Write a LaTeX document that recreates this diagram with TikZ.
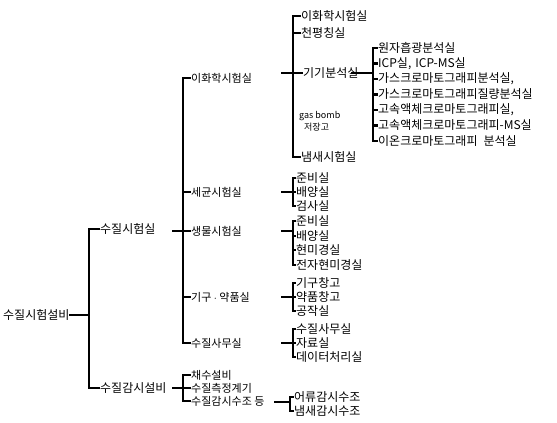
\documentclass[tikz,border=0pt]{standalone}
\usepackage{fontspec}
\setmainfont{Noto Sans CJK KR}
\begin{document}
\begin{tikzpicture}[x=1pt, y=-1pt,
    br/.style={line width=2.8pt, line cap=rect},
    lbl/.style={anchor=west, inner sep=1pt, font=\fontsize{12}{13}\selectfont},
    mid/.style={lbl, font=\fontsize{11}{12}\selectfont}]
	\useasboundingbox (0,0) rectangle (557,423);

	% Bracket columns
	\coordinate (x0) at (89,0);
	\coordinate (x1) at (183,0);
	\coordinate (x2) at (293,0);
	\coordinate (x3) at (373,0);
	\coordinate (x4) at (290,0);

	% Level 0
	\node[lbl] (root) at (2,315) {수질시험설비};
	\node[lbl] (lab) at (99,229) {수질시험실};
	\node[lbl] (mon) at (99,388) {수질감시설비};

	\draw[br] (root.east) -- (root.east -| x0);
	\draw[br] (lab.west) -- (lab.west -| x0) -- (mon.west -| x0) -- (mon.west);

	% Level 1
	\node[mid] (room1) at (190,78) {이화학시험실};
	\node[mid] (room2) at (190,192) {세균시험실};
	\node[mid] (room3) at (190,231) {생물시험실};
	\node[mid] (room4) at (190,297) {기구 $\cdot$ 약품실};
	\node[mid] (room5) at (190,343) {수질사무실};

	\node[mid] (mon1) at (190,375) {채수설비};
	\node[mid] (mon2) at (190,388) {수질측정계기};
	\node[mid] (mon3) at (190,401) {수질감시수조 등};

	\coordinate (t1) at (173,231);
	\draw[br] (t1) -- (t1 -| x1);
	\draw[br] (room1.west) -- (room1.west -| x1) -- (room5.west -| x1) -- (room5.west);
	\draw[br] (room2.west -| x1) -- (room2.west);
	\draw[br] (room3.west -| x1) -- (room3.west);
	\draw[br] (room4.west -| x1) -- (room4.west);

	\coordinate (t2) at (173,388);
	\draw[br] (t2) -- (t2 -| x1);
	\draw[br] (mon1.west) -- (mon1.west -| x1) -- (mon3.west -| x1) -- (mon3.west);
	\draw[br] (mon2.west -| x1) -- (mon2.west);

	% Level 2: chemistry
	\node[lbl] (chem1) at (300,16) {이화학시험실};
	\node[lbl] (chem2) at (300,33) {천평칭실};
	\node[lbl] (chem3) at (302,73) {기기분석실};
	\node[lbl, align=left, font=\fontsize{9}{12}\selectfont] (chem4) at (298,121) {gas bomb\\\hspace{5pt}저장고};
	\node[lbl] (chem5) at (300,157) {냄새시험실};

	\coordinate (t3) at (282,73);
	\draw[br] (t3) -- (t3 -| x2);
	\draw[br] (chem1.west) -- (chem1.west -| x2) -- (chem5.west -| x2) -- (chem5.west);
	\draw[br] (chem2.west -| x2) -- (chem2.west);
	\draw[br] (chem3.west -| x2) -- (chem3.west);

	% Level 3: instruments
	\node[lbl] (inst1) at (377,48) {원자흡광분석실};
	\node[lbl] (inst2) at (377,63.5) {ICP실,\hspace{4pt}ICP-MS실};
	\node[lbl] (inst3) at (377,79) {가스크로마토그래피분석실,};
	\node[lbl] (inst4) at (377,94.5) {가스크로마토그래피질량분석실};
	\node[lbl] (inst5) at (377,110) {고속액체크로마토그래피실,};
	\node[lbl] (inst6) at (377,125.5) {고속액체크로마토그래피-MS실};
	\node[lbl] (inst7) at (377,141) {이온크로마토그래피\hspace{6pt}분석실};

	\coordinate (t4) at (352,73);
	\draw[br] (t4) -- (t4 -| x3);
	\draw[br] (inst1.west) -- (inst1.west -| x3) -- (inst7.west -| x3) -- (inst7.west);
	\draw[br] (inst2.west -| x3) -- (inst2.west);
	\draw[br] (inst3.west -| x3) -- (inst3.west);
	\draw[br] (inst4.west -| x3) -- (inst4.west);
	\draw[br] (inst5.west -| x3) -- (inst5.west);
	\draw[br] (inst6.west -| x3) -- (inst6.west);

	% Level 2: bacteria
	\node[lbl] (germ1) at (295,178) {준비실};
	\node[lbl] (germ2) at (295,192) {배양실};
	\node[lbl] (germ3) at (295,206) {검사실};

	\coordinate (t5) at (282,192);
	\draw[br] (t5) -- (t5 -| x2);
	\draw[br] (germ1.west) -- (germ1.west -| x2) -- (germ3.west -| x2) -- (germ3.west);
	\draw[br] (germ2.west -| x2) -- (germ2.west);

	% Level 2: biology
	\node[lbl] (bio1) at (295,221) {준비실};
	\node[lbl] (bio2) at (295,236) {배양실};
	\node[lbl] (bio3) at (295,250) {현미경실};
	\node[lbl] (bio4) at (295,265) {전자현미경실};

	\coordinate (t6) at (282,231);
	\draw[br] (t6) -- (t6 -| x2);
	\draw[br] (bio1.west) -- (bio1.west -| x2) -- (bio4.west -| x2) -- (bio4.west);
	\draw[br] (bio2.west -| x2) -- (bio2.west);
	\draw[br] (bio3.west -| x2) -- (bio3.west);

	% Level 2: tools
	\node[lbl] (inv1) at (295,283) {기구창고};
	\node[lbl] (inv2) at (295,297) {약품창고};
	\node[lbl] (inv3) at (295,311) {공작실};

	\coordinate (t7) at (282,297);
	\draw[br] (t7) -- (t7 -| x2);
	\draw[br] (inv1.west) -- (inv1.west -| x2) -- (inv3.west -| x2) -- (inv3.west);
	\draw[br] (inv2.west -| x2) -- (inv2.west);

	% Level 2: office
	\node[lbl] (off1) at (295,329) {수질사무실};
	\node[lbl] (off2) at (295,343) {자료실};
	\node[lbl] (off3) at (295,357) {데이터처리실};

	\coordinate (t8) at (282,343);
	\draw[br] (t8) -- (t8 -| x2);
	\draw[br] (off1.west) -- (off1.west -| x2) -- (off3.west -| x2) -- (off3.west);
	\draw[br] (off2.west -| x2) -- (off2.west);

	% Level 2: tanks
	\node[lbl] (tank1) at (293,397) {어류감시수조};
	\node[lbl] (tank2) at (293,411) {냄새감시수조};

	\coordinate (t9) at (275,402);
	\draw[br] (t9) -- (t9 -| x4);
	\draw[br] (tank1.west) -- (tank1.west -| x4) -- (tank2.west -| x4) -- (tank2.west);
\end{tikzpicture}
\end{document}
